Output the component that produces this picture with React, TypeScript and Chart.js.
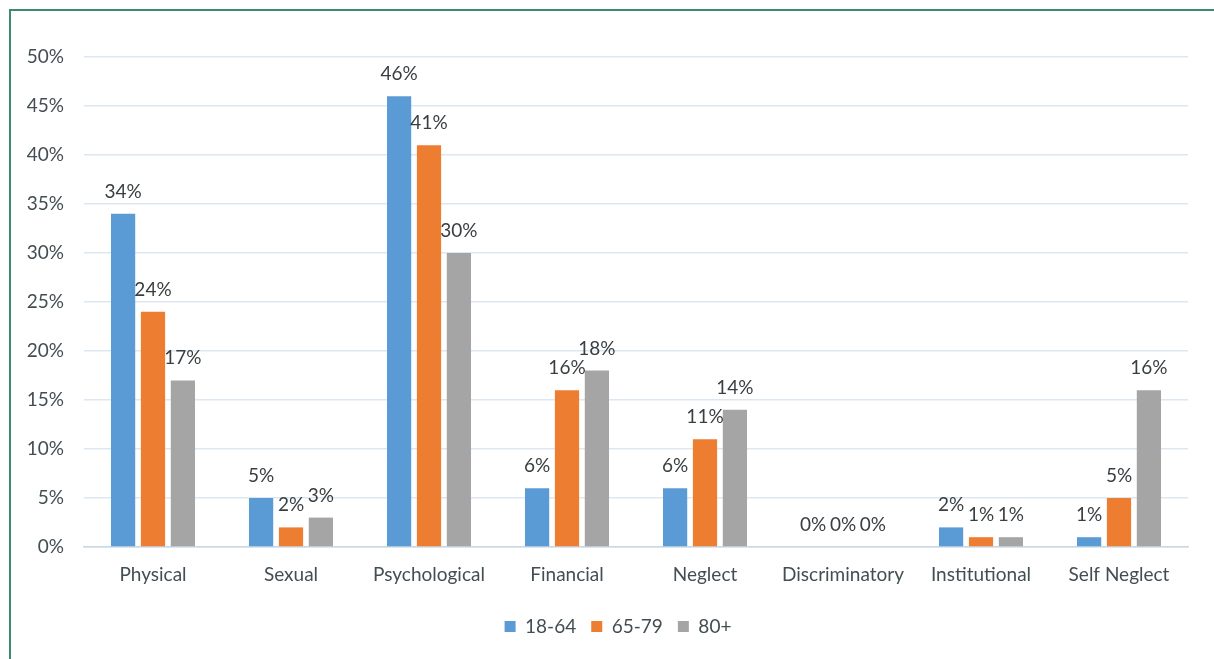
import React, { useEffect, useRef } from "react";
import { Chart, registerables } from "chart.js";

Chart.register(...registerables);

const categories = [
  "Physical",
  "Sexual",
  "Psychological",
  "Financial",
  "Neglect",
  "Discriminatory",
  "Institutional",
  "Self Neglect",
];

const age18to64 = [34, 5, 46, 6, 6, 0, 2, 1];
const age65to79 = [24, 2, 41, 16, 11, 0, 1, 5];
const age80plus = [17, 3, 30, 18, 14, 0, 1, 16];

const seriesLabels = ["18-64", "65-79", "80+"];
const seriesColors = ["#5B9BD5", "#ED7D31", "#A5A5A5"];

const FONT = "Lato, 'Open Sans', sans-serif";
const TEXT = "#434e53";
const LEGEND_SHIFT = 24;

// Writes the percentage above each bar
const valueLabels = {
  id: "valueLabels",
  afterDatasetsDraw(chart: any) {
    const ctx = chart.ctx;
    ctx.save();
    ctx.font = `19px ${FONT}`;
    ctx.fillStyle = "#383e41";
    ctx.textAlign = "center";
    ctx.textBaseline = "alphabetic";
    chart.data.datasets.forEach((ds: any, i: number) => {
      const meta = chart.getDatasetMeta(i);
      meta.data.forEach((bar: any, j: number) => {
        ctx.fillText(`${ds.data[j]}%`, bar.x, bar.y - 16);
      });
    });
    ctx.restore();
  },
};

// Nudges the bottom legend to the right of the canvas centre
const legendOffset = {
  id: "legendOffset",
  afterLayout(chart: any) {
    if (chart.legend) {
      chart.legend.left += LEGEND_SHIFT;
      chart.legend.right += LEGEND_SHIFT;
    }
  },
};

export default function App() {
  const canvasRef = useRef<HTMLCanvasElement | null>(null);

  useEffect(() => {
    document.body.style.margin = "0";
    const canvas = canvasRef.current!;
    const chart = new Chart(canvas, {
      type: "bar",
      data: {
        labels: categories,
        datasets: [age18to64, age65to79, age80plus].map((d, i) => ({
          label: seriesLabels[i],
          data: d,
          backgroundColor: seriesColors[i],
          borderWidth: 0,
          categoryPercentage: 0.65,
          barPercentage: 0.81,
        })),
      },
      options: {
        animation: false,
        responsive: false,
        maintainAspectRatio: false,
        layout: { padding: { top: 57, right: 26, bottom: 13, left: 0 } },
        plugins: {
          tooltip: { enabled: false },
          legend: {
            position: "bottom",
            labels: {
              font: { family: FONT, size: 19 },
              color: TEXT,
              boxWidth: 11,
              boxHeight: 11,
              padding: 15,
            },
          },
        },
        scales: {
          x: {
            grid: { display: false, drawTicks: false },
            border: { display: true, color: "#c9d7e4", width: 1.5 },
            ticks: {
              font: { family: FONT, size: 19 },
              color: TEXT,
              padding: 16,
              maxRotation: 0,
              autoSkip: false,
            },
            afterFit(scale: any) {
              scale.height = 55;
            },
          },
          y: {
            min: 0,
            max: 50,
            grid: { color: "#dce7f1", lineWidth: 1.5, drawTicks: false },
            border: { display: false },
            ticks: {
              stepSize: 5,
              font: { family: FONT, size: 19 },
              color: TEXT,
              padding: 20,
              callback: (v: any) => `${v}%`,
            },
            afterFit(scale: any) {
              scale.width = 84;
            },
          },
        },
      },
      plugins: [valueLabels, legendOffset],
    });
    return () => chart.destroy();
  }, []);

  return (
    <div style={{ position: "relative", width: 1214, height: 659, overflow: "hidden", background: "#fff" }}>
      <canvas ref={canvasRef} width={1214} height={659} style={{ position: "absolute", left: 0, top: 0 }} />
      <div
        style={{
          position: "absolute",
          left: 9,
          top: 9,
          width: 1300,
          height: 800,
          borderTop: "2px solid #3f8a6c",
          borderLeft: "2px solid #3f8a6c",
          pointerEvents: "none",
        }}
      />
    </div>
  );
}
